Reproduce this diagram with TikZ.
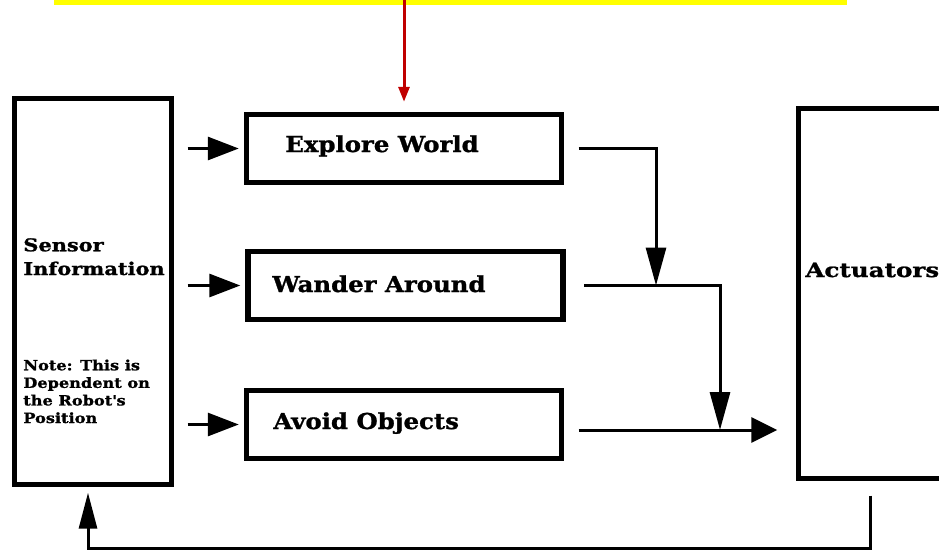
\documentclass[tikz,border=0pt]{standalone}
\usepackage{fontspec}
\setmainfont{DejaVu Serif}
\newfontfamily\boxfont[FakeStretch=1.11,BoldFeatures={FakeBold=1.2}]{DejaVu Serif}
\newfontfamily\sidefont[FakeStretch=1.19,BoldFeatures={FakeBold=1.2}]{DejaVu Serif}
\newfontfamily\notefont[FakeStretch=1.15,BoldFeatures={FakeBold=1.2}]{DejaVu Serif}
\newfontfamily\actfont[FakeStretch=1.25,BoldFeatures={FakeBold=1.2}]{DejaVu Serif}
\usepackage{xcolor}
\usetikzlibrary{arrows.meta}

\definecolor{banneryellow}{RGB}{255,255,0}
\definecolor{darkred}{RGB}{192,0,0}

\begin{document}
\begin{tikzpicture}[x=0.02cm,y=-0.02cm,
blkcell/.style={draw=black,line width=0.11cm,minimum width=6.3cm,minimum height=1.36cm,inner sep=0pt},
sidecell/.style={draw=black,line width=0.11cm,inner sep=0pt},
boxtxt/.style={anchor=base west,inner sep=0pt,font=\boxfont\fontsize{12.5}{15}\bfseries},
sidetxt/.style={anchor=base west,inner sep=0pt,align=left,font=\sidefont\fontsize{10}{13.5}\bfseries},
notetxt/.style={anchor=base west,inner sep=0pt,align=left,font=\notefont\fontsize{8}{10}\bfseries},
bigarr/.style={line width=0.06cm,-{Triangle[length=0.62cm,width=0.46cm]}},
droparr/.style={line width=0.06cm,-{Triangle[length=0.76cm,width=0.4cm]}}
]
\useasboundingbox (0,0) rectangle (939,551);
\clip (0,0) rectangle (939,551);

\node[fill=banneryellow,minimum width=15.86cm,minimum height=0.6cm,inner sep=0pt](banner) at (450.5,-10) {};

\node[sidecell,minimum width=3.14cm,minimum height=7.72cm](sens) at (93,291.5) {};
\node[sidecell,minimum width=4cm,minimum height=7.4cm](act) at (898.5,293.5) {};

\node[blkcell](ea) at (404,148.5) {};
\node[blkcell](eb) at (405.5,285.5) {};
\node[blkcell](ec) at (404,424.5) {};

\node[boxtxt](eatxt) at (285,152) {Explore World};
\node[boxtxt](ebtxt) at (272,292) {Wander Around};
\node[boxtxt](ectxt) at (273,429) {Avoid Objects};

\node[sidetxt](senstxt) at (23,275) {Sensor\\Information};
\node[notetxt](notetxt) at (23,423) {Note: This is\\Dependent on\\the Robot\textquotesingle s\\Position};
\node[sidetxt,font=\actfont\fontsize{11.2}{14}\bfseries](acttxt) at (805,277) {Actuators};

\draw[darkred,line width=0.06cm,-{Triangle[length=0.3cm,width=0.22cm]},shorten >=0.2cm](banner.center -| ea) to (ea.north);

\draw[bigarr,shorten <=0.27cm,shorten >=0.1cm](sens.east |- ea) to (ea.west);
\draw[bigarr,shorten <=0.27cm,shorten >=0.1cm](sens.east |- eb) to (eb.west);
\draw[bigarr,shorten <=0.27cm,shorten >=0.1cm](sens.east |- ec) to (ec.west);

\coordinate (ja) at (656,285.5);
\coordinate (jb) at (720,430);
\draw[droparr,shorten <=0.29cm](ea.east) -| (ja);
\draw[droparr,shorten <=0.37cm](eb.east) -| (jb);
\draw[line width=0.06cm,-{Triangle[length=0.52cm,width=0.5cm]},shorten >=0.37cm]([xshift=0.29cm]ec.east |- jb) to (act.west |- jb);

\coordinate (fbr) at (870,548);
\coordinate (fbl) at (88,548);
\draw[line width=0.06cm,-{Triangle[length=0.72cm,width=0.36cm]},shorten <=0.29cm,shorten >=0.11cm](act.south -| fbr) -- (fbr) -- (fbl) -- (sens.south -| fbl);

\end{tikzpicture}
\end{document}
